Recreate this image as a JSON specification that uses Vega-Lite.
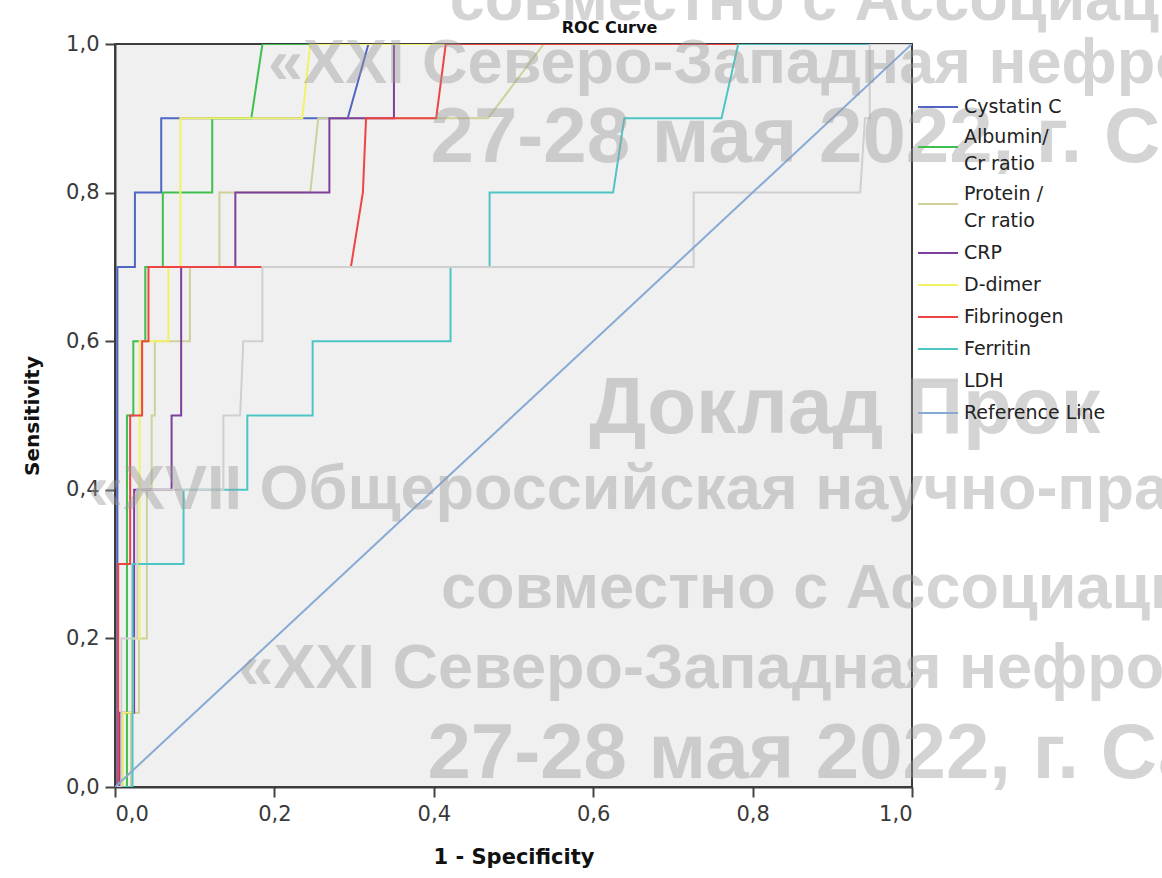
{
  "$schema": "https://vega.github.io/schema/vega-lite/v6.json",
  "autosize": "none",
  "width": 797,
  "height": 743,
  "padding": {"left": 115, "top": 44, "right": 250, "bottom": 91},
  "background": "white",
  "config": {
    "view": {"fill": "#f0f0f0", "stroke": "#3c3c3c", "strokeWidth": 2},
    "font": "DejaVu Sans"
  },
  "title": {
    "text": "ROC Curve",
    "font": "DejaVu Sans",
    "fontSize": 16,
    "fontWeight": "bold",
    "color": "#111",
    "anchor": "middle",
    "frame": "group",
    "dx": 96,
    "dy": 66,
    "offset": 0
  },
  "datasets": {
    "roc": [
      {"s": "Cystatin C", "i": 0, "x": 0, "y": 0},
      {"s": "Cystatin C", "i": 1, "x": 0.003, "y": 0},
      {"s": "Cystatin C", "i": 2, "x": 0.003, "y": 0.7},
      {"s": "Cystatin C", "i": 3, "x": 0.025, "y": 0.7},
      {"s": "Cystatin C", "i": 4, "x": 0.025, "y": 0.8},
      {"s": "Cystatin C", "i": 5, "x": 0.058, "y": 0.8},
      {"s": "Cystatin C", "i": 6, "x": 0.058, "y": 0.9},
      {"s": "Cystatin C", "i": 7, "x": 0.292, "y": 0.9},
      {"s": "Cystatin C", "i": 8, "x": 0.318, "y": 1.0},
      {"s": "Cystatin C", "i": 9, "x": 1, "y": 1.0},

      {"s": "Albumin/Cr ratio", "i": 0, "x": 0, "y": 0},
      {"s": "Albumin/Cr ratio", "i": 1, "x": 0.015, "y": 0},
      {"s": "Albumin/Cr ratio", "i": 2, "x": 0.015, "y": 0.5},
      {"s": "Albumin/Cr ratio", "i": 3, "x": 0.023, "y": 0.5},
      {"s": "Albumin/Cr ratio", "i": 4, "x": 0.023, "y": 0.6},
      {"s": "Albumin/Cr ratio", "i": 5, "x": 0.038, "y": 0.6},
      {"s": "Albumin/Cr ratio", "i": 6, "x": 0.038, "y": 0.7},
      {"s": "Albumin/Cr ratio", "i": 7, "x": 0.06, "y": 0.7},
      {"s": "Albumin/Cr ratio", "i": 8, "x": 0.06, "y": 0.8},
      {"s": "Albumin/Cr ratio", "i": 9, "x": 0.122, "y": 0.8},
      {"s": "Albumin/Cr ratio", "i": 10, "x": 0.122, "y": 0.9},
      {"s": "Albumin/Cr ratio", "i": 11, "x": 0.171, "y": 0.9},
      {"s": "Albumin/Cr ratio", "i": 12, "x": 0.185, "y": 1.0},
      {"s": "Albumin/Cr ratio", "i": 13, "x": 1, "y": 1.0},

      {"s": "Protein/Cr ratio", "i": 0, "x": 0, "y": 0},
      {"s": "Protein/Cr ratio", "i": 1, "x": 0.02, "y": 0},
      {"s": "Protein/Cr ratio", "i": 2, "x": 0.02, "y": 0.1},
      {"s": "Protein/Cr ratio", "i": 3, "x": 0.03, "y": 0.1},
      {"s": "Protein/Cr ratio", "i": 4, "x": 0.03, "y": 0.2},
      {"s": "Protein/Cr ratio", "i": 5, "x": 0.04, "y": 0.2},
      {"s": "Protein/Cr ratio", "i": 6, "x": 0.04, "y": 0.4},
      {"s": "Protein/Cr ratio", "i": 7, "x": 0.046, "y": 0.4},
      {"s": "Protein/Cr ratio", "i": 8, "x": 0.046, "y": 0.5},
      {"s": "Protein/Cr ratio", "i": 9, "x": 0.05, "y": 0.5},
      {"s": "Protein/Cr ratio", "i": 10, "x": 0.05, "y": 0.6},
      {"s": "Protein/Cr ratio", "i": 11, "x": 0.094, "y": 0.6},
      {"s": "Protein/Cr ratio", "i": 12, "x": 0.094, "y": 0.7},
      {"s": "Protein/Cr ratio", "i": 13, "x": 0.131, "y": 0.7},
      {"s": "Protein/Cr ratio", "i": 14, "x": 0.131, "y": 0.8},
      {"s": "Protein/Cr ratio", "i": 15, "x": 0.245, "y": 0.8},
      {"s": "Protein/Cr ratio", "i": 16, "x": 0.255, "y": 0.9},
      {"s": "Protein/Cr ratio", "i": 17, "x": 0.468, "y": 0.9},
      {"s": "Protein/Cr ratio", "i": 18, "x": 0.538, "y": 1.0},
      {"s": "Protein/Cr ratio", "i": 19, "x": 1, "y": 1.0},

      {"s": "CRP", "i": 0, "x": 0, "y": 0},
      {"s": "CRP", "i": 1, "x": 0.006, "y": 0},
      {"s": "CRP", "i": 2, "x": 0.006, "y": 0.1},
      {"s": "CRP", "i": 3, "x": 0.024, "y": 0.1},
      {"s": "CRP", "i": 4, "x": 0.024, "y": 0.4},
      {"s": "CRP", "i": 5, "x": 0.071, "y": 0.4},
      {"s": "CRP", "i": 6, "x": 0.071, "y": 0.5},
      {"s": "CRP", "i": 7, "x": 0.083, "y": 0.5},
      {"s": "CRP", "i": 8, "x": 0.083, "y": 0.7},
      {"s": "CRP", "i": 9, "x": 0.151, "y": 0.7},
      {"s": "CRP", "i": 10, "x": 0.151, "y": 0.8},
      {"s": "CRP", "i": 11, "x": 0.269, "y": 0.8},
      {"s": "CRP", "i": 12, "x": 0.269, "y": 0.9},
      {"s": "CRP", "i": 13, "x": 0.35, "y": 0.9},
      {"s": "CRP", "i": 14, "x": 0.35, "y": 1.0},
      {"s": "CRP", "i": 15, "x": 1, "y": 1.0},

      {"s": "D-dimer", "i": 0, "x": 0, "y": 0},
      {"s": "D-dimer", "i": 1, "x": 0.01, "y": 0},
      {"s": "D-dimer", "i": 2, "x": 0.01, "y": 0.1},
      {"s": "D-dimer", "i": 3, "x": 0.022, "y": 0.1},
      {"s": "D-dimer", "i": 4, "x": 0.022, "y": 0.2},
      {"s": "D-dimer", "i": 5, "x": 0.031, "y": 0.2},
      {"s": "D-dimer", "i": 6, "x": 0.031, "y": 0.6},
      {"s": "D-dimer", "i": 7, "x": 0.067, "y": 0.6},
      {"s": "D-dimer", "i": 8, "x": 0.067, "y": 0.7},
      {"s": "D-dimer", "i": 9, "x": 0.082, "y": 0.7},
      {"s": "D-dimer", "i": 10, "x": 0.082, "y": 0.9},
      {"s": "D-dimer", "i": 11, "x": 0.235, "y": 0.9},
      {"s": "D-dimer", "i": 12, "x": 0.245, "y": 1.0},
      {"s": "D-dimer", "i": 13, "x": 1, "y": 1.0},

      {"s": "Fibrinogen", "i": 0, "x": 0, "y": 0},
      {"s": "Fibrinogen", "i": 1, "x": 0.004, "y": 0},
      {"s": "Fibrinogen", "i": 2, "x": 0.004, "y": 0.3},
      {"s": "Fibrinogen", "i": 3, "x": 0.019, "y": 0.3},
      {"s": "Fibrinogen", "i": 4, "x": 0.019, "y": 0.5},
      {"s": "Fibrinogen", "i": 5, "x": 0.034, "y": 0.5},
      {"s": "Fibrinogen", "i": 6, "x": 0.034, "y": 0.6},
      {"s": "Fibrinogen", "i": 7, "x": 0.042, "y": 0.6},
      {"s": "Fibrinogen", "i": 8, "x": 0.042, "y": 0.7},
      {"s": "Fibrinogen", "i": 9, "x": 0.296, "y": 0.7},
      {"s": "Fibrinogen", "i": 10, "x": 0.311, "y": 0.8},
      {"s": "Fibrinogen", "i": 11, "x": 0.315, "y": 0.9},
      {"s": "Fibrinogen", "i": 12, "x": 0.403, "y": 0.9},
      {"s": "Fibrinogen", "i": 13, "x": 0.415, "y": 1.0},
      {"s": "Fibrinogen", "i": 14, "x": 1, "y": 1.0},

      {"s": "Ferritin", "i": 0, "x": 0, "y": 0},
      {"s": "Ferritin", "i": 1, "x": 0.022, "y": 0},
      {"s": "Ferritin", "i": 2, "x": 0.022, "y": 0.3},
      {"s": "Ferritin", "i": 3, "x": 0.086, "y": 0.3},
      {"s": "Ferritin", "i": 4, "x": 0.086, "y": 0.4},
      {"s": "Ferritin", "i": 5, "x": 0.166, "y": 0.4},
      {"s": "Ferritin", "i": 6, "x": 0.166, "y": 0.5},
      {"s": "Ferritin", "i": 7, "x": 0.248, "y": 0.5},
      {"s": "Ferritin", "i": 8, "x": 0.248, "y": 0.6},
      {"s": "Ferritin", "i": 9, "x": 0.421, "y": 0.6},
      {"s": "Ferritin", "i": 10, "x": 0.421, "y": 0.7},
      {"s": "Ferritin", "i": 11, "x": 0.47, "y": 0.7},
      {"s": "Ferritin", "i": 12, "x": 0.47, "y": 0.8},
      {"s": "Ferritin", "i": 13, "x": 0.625, "y": 0.8},
      {"s": "Ferritin", "i": 14, "x": 0.639, "y": 0.9},
      {"s": "Ferritin", "i": 15, "x": 0.761, "y": 0.9},
      {"s": "Ferritin", "i": 16, "x": 0.782, "y": 1.0},
      {"s": "Ferritin", "i": 17, "x": 1, "y": 1.0},

      {"s": "LDH", "i": 0, "x": 0, "y": 0},
      {"s": "LDH", "i": 1, "x": 0.008, "y": 0},
      {"s": "LDH", "i": 2, "x": 0.008, "y": 0.2},
      {"s": "LDH", "i": 3, "x": 0.028, "y": 0.2},
      {"s": "LDH", "i": 4, "x": 0.028, "y": 0.4},
      {"s": "LDH", "i": 5, "x": 0.136, "y": 0.4},
      {"s": "LDH", "i": 6, "x": 0.136, "y": 0.5},
      {"s": "LDH", "i": 7, "x": 0.157, "y": 0.5},
      {"s": "LDH", "i": 8, "x": 0.161, "y": 0.6},
      {"s": "LDH", "i": 9, "x": 0.185, "y": 0.6},
      {"s": "LDH", "i": 10, "x": 0.185, "y": 0.7},
      {"s": "LDH", "i": 11, "x": 0.726, "y": 0.7},
      {"s": "LDH", "i": 12, "x": 0.726, "y": 0.8},
      {"s": "LDH", "i": 13, "x": 0.935, "y": 0.8},
      {"s": "LDH", "i": 14, "x": 0.941, "y": 0.9},
      {"s": "LDH", "i": 15, "x": 0.947, "y": 0.9},
      {"s": "LDH", "i": 16, "x": 0.947, "y": 1.0},
      {"s": "LDH", "i": 17, "x": 1, "y": 1.0},

      {"s": "Reference Line", "i": 0, "x": 0, "y": 0},
      {"s": "Reference Line", "i": 1, "x": 1, "y": 1}
    ],
    "wm": [
      {"t": "совместно с Ассоциацией", "x": 0.42, "y": 1.032},
      {"t": "«XXI Северо-Западная нефрологическая", "x": 0.192, "y": 0.948},
      {"t": "«XVII Общероссийская научно-практическая", "x": -0.034, "y": 0.374},
      {"t": "совместно с Ассоциацией", "x": 0.409, "y": 0.241},
      {"t": "«XXI Северо-Западная нефрологическая", "x": 0.155, "y": 0.133}
    ],
    "wm3": [
      {"t": "27-28 мая 2022, г. Санкт-Петербург", "x": 0.396, "y": 0.841},
      {"t": "27-28 мая 2022, г. Санкт-Петербург", "x": 0.392, "y": 0.012}
    ],
    "wm2": [
      {"t": "Доклад Прок", "x": 0.595, "y": 0.477}
    ]
  },
  "layer": [
    {
      "data": {"name": "roc"},
      "mark": {"type": "line", "strokeWidth": 2, "clip": true},
      "encoding": {
        "x": {
          "field": "x", "type": "quantitative",
          "scale": {"domain": [0, 1], "nice": false, "zero": false},
          "axis": {
            "values": [0, 0.2, 0.4, 0.6, 0.8, 1],
            "labelExpr": "replace(format(datum.value, '.1f'), '.', ',')",
            "title": "1 - Specificity",
            "titleFont": "DejaVu Sans", "titleFontSize": 21, "titleFontWeight": "bold", "titleColor": "#111",
            "titlePadding": 22,
            "labelFont": "DejaVu Sans", "labelFontSize": 21, "labelColor": "#3a3a3a", "labelPadding": 6,
            "tickSize": 10, "tickWidth": 2, "tickColor": "#444",
            "domainColor": "#3c3c3c", "domainWidth": 2, "grid": false
          }
        },
        "y": {
          "field": "y", "type": "quantitative",
          "scale": {"domain": [0, 1], "nice": false, "zero": false},
          "axis": {
            "values": [0, 0.2, 0.4, 0.6, 0.8, 1],
            "labelExpr": "replace(format(datum.value, '.1f'), '.', ',')",
            "title": "Sensitivity",
            "titleFont": "DejaVu Sans", "titleFontSize": 20, "titleFontWeight": "bold", "titleColor": "#111",
            "titlePadding": 23,
            "labelFont": "DejaVu Sans", "labelFontSize": 21, "labelColor": "#3a3a3a", "labelPadding": 6,
            "tickSize": 10, "tickWidth": 2, "tickColor": "#444",
            "domainColor": "#3c3c3c", "domainWidth": 2, "grid": false
          }
        },
        "color": {
          "field": "s", "type": "nominal",
          "scale": {
            "domain": ["Cystatin C", "Albumin/Cr ratio", "Protein/Cr ratio", "CRP", "D-dimer", "Fibrinogen", "Ferritin", "LDH", "Reference Line"],
            "range": ["#4f66c4", "#3fbf50", "#cfd09a", "#7d3f9c", "#f2f266", "#ee4444", "#4ec5c5", "#cfcfcf", "#86aad4"]
          },
          "legend": {
            "orient": "none", "legendX": 812, "legendY": 52,
            "title": null,
            "symbolType": "M-2,0H2", "symbolSize": 400, "symbolStrokeWidth": 2,
            "labelFont": "DejaVu Sans", "labelFontSize": 19, "labelColor": "#222",
            "labelLimit": 300, "labelOffset": 15, "rowPadding": 11,
            "labelExpr": "datum.label == 'Albumin/Cr ratio' ? ['Albumin/', 'Cr ratio'] : datum.label == 'Protein/Cr ratio' ? ['Protein /', 'Cr ratio'] : datum.label",
            "encode": {
              "labels": {
                "update": {
                  "lineHeight": {"value": 27},
                  "dy": {"signal": "datum.value == 'Albumin/Cr ratio' || datum.value == 'Protein/Cr ratio' ? -10 : 0"}
                }
              }
            }
          }
        },
        "order": {"field": "i", "type": "quantitative"}
      }
    },
    {
      "data": {"name": "wm"},
      "mark": {"type": "text", "align": "left", "baseline": "alphabetic", "font": "Liberation Sans", "fontWeight": "bold", "fontSize": 63, "color": "#9a9a9a", "opacity": 0.42},
      "encoding": {
        "x": {"field": "x", "type": "quantitative"},
        "y": {"field": "y", "type": "quantitative"},
        "text": {"field": "t"}
      }
    },
    {
      "data": {"name": "wm3"},
      "mark": {"type": "text", "align": "left", "baseline": "alphabetic", "font": "Liberation Sans", "fontWeight": "bold", "fontSize": 78, "color": "#9a9a9a", "opacity": 0.42},
      "encoding": {
        "x": {"field": "x", "type": "quantitative"},
        "y": {"field": "y", "type": "quantitative"},
        "text": {"field": "t"}
      }
    },
    {
      "data": {"name": "wm2"},
      "mark": {"type": "text", "align": "left", "baseline": "alphabetic", "font": "Liberation Sans", "fontWeight": "bold", "fontSize": 80, "color": "#9a9a9a", "opacity": 0.42},
      "encoding": {
        "x": {"field": "x", "type": "quantitative"},
        "y": {"field": "y", "type": "quantitative"},
        "text": {"field": "t"}
      }
    }
  ]
}
